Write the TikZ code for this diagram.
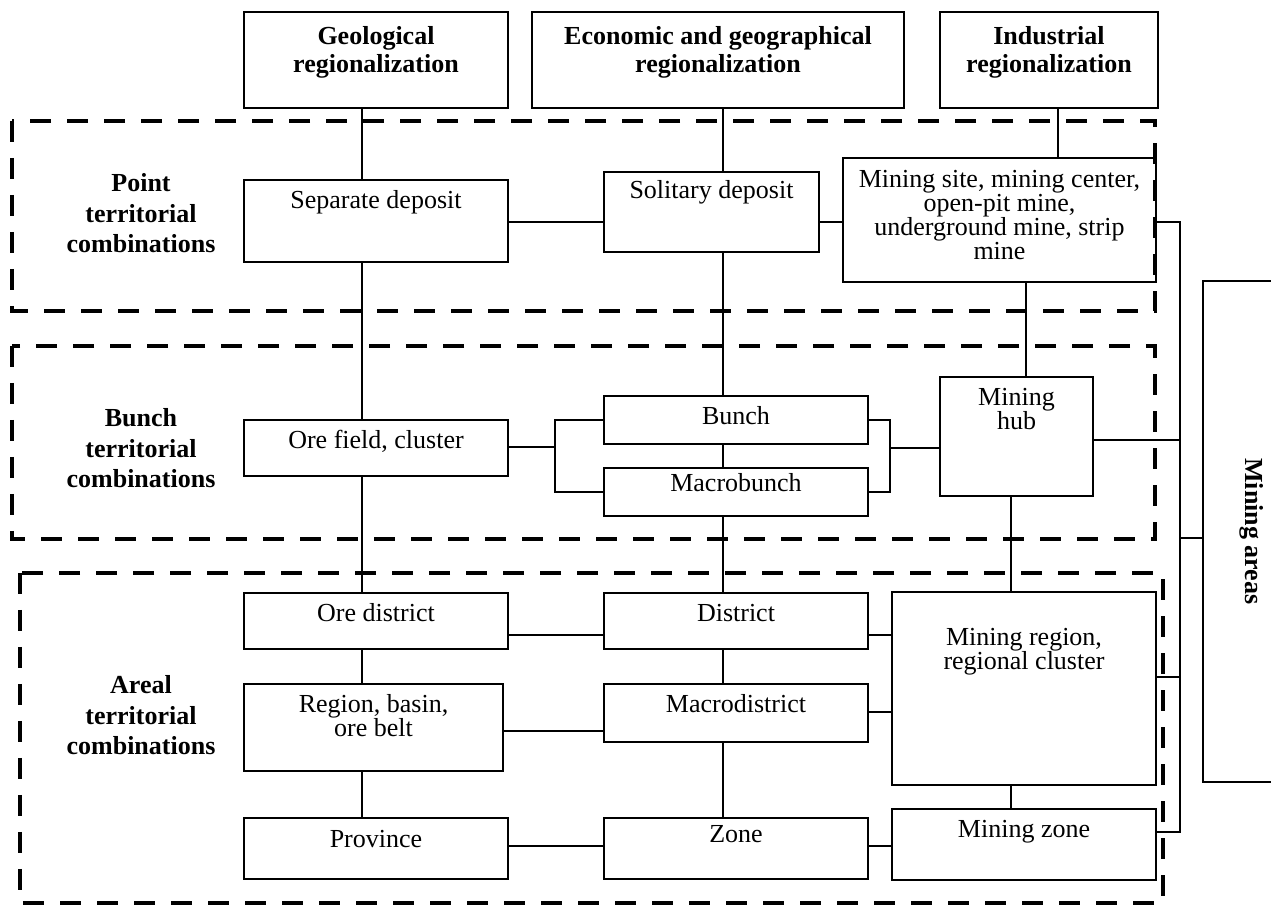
\documentclass[tikz,border=0pt]{standalone}
\usepackage{fontspec}
\setmainfont{Liberation Serif}
\usetikzlibrary{calc}
\tikzset{
  box/.style={draw, line width=1pt, inner sep=0pt, anchor=north west},
  txt/.style={font=\fontsize{13}{12}\selectfont, align=center, anchor=base, inner sep=0pt},
  head/.style={txt, font=\fontsize{13}{14}\selectfont\bfseries},
  grp/.style={txt, font=\fontsize{13}{15.25}\selectfont\bfseries},
  conn/.style={line width=0.8pt},
  grpframe/.style={line width=2pt, dash pattern=on 10.5pt off 8pt},
}
\begin{document}
\begin{tikzpicture}[x=0.5pt,y=-0.5pt]
  \useasboundingbox (0,0) rectangle (1271,908);
  \clip (0,0) rectangle (1271,908);
  % the three groups of combinations
  % (base of a text of several lines = its last line)
  \draw[grpframe] (12,121) rectangle (1155,311);
  \draw[grpframe] (12,346) rectangle (1155,539);
  \draw[grpframe] (20,573) rectangle (1163,903);
  \node[grp] (lpoint) at (141,253) {Point\\territorial\\combinations};
  \node[grp] (lbunch) at (141,488) {Bunch\\territorial\\combinations};
  \node[grp] (lareal) at (141,755) {Areal\\territorial\\combinations};
  %% kinds of regionalization
  \node[box, minimum width=132pt, minimum height=48pt] (geo) at (243,11) {};
  \node[head] (geo-t) at ([yshift=-31pt]geo.north) {Geological\\regionalization};
  \node[box, minimum width=186pt, minimum height=48pt] (econ) at (531,11) {};
  \node[head] (econ-t) at ([yshift=-31pt]econ.north) {Economic and geographical\\regionalization};
  \node[box, minimum width=109pt, minimum height=48pt] (ind) at (939,11) {};
  \node[head] (ind-t) at ([yshift=-31pt]ind.north) {Industrial\\regionalization};
  %% point row
  \node[box, minimum width=132pt, minimum height=41pt] (sep) at (243,179) {};
  \node[txt] (sep-t) at ([yshift=-15pt]sep.north) {Separate deposit};
  \node[box, minimum width=107.5pt, minimum height=40pt] (sol) at (603,171) {};
  \node[txt] (sol-t) at ([yshift=-14pt]sol.north) {Solitary deposit};
  \node[box, minimum width=156.5pt, minimum height=62pt] (site) at (842,157) {};
  \node[txt] (site-t) at ([yshift=-51.5pt]site.north) {Mining site, mining center,\\open-pit mine,\\underground mine, strip\\mine};
  %% bunch row
  \node[box, minimum width=132pt, minimum height=28pt] (ore) at (243,419) {};
  \node[txt] (ore-t) at ([yshift=-15pt]ore.north) {Ore field, cluster};
  \node[box, minimum width=132pt, minimum height=24pt] (bunch) at (603,395) {};
  \node[txt] (bunch-t) at ([yshift=-15pt]bunch.north) {Bunch};
  \node[box, minimum width=132pt, minimum height=24pt] (mbunch) at (603,467) {};
  \node[txt] (mbunch-t) at ([yshift=-12.5pt]mbunch.north) {Macrobunch};
  \node[box, minimum width=76.5pt, minimum height=59.5pt] (hub) at (939,376) {};
  \node[txt] (hub-t) at ([yshift=-27pt]hub.north) {Mining\\hub};
  %% areal rows
  \node[box, minimum width=132pt, minimum height=28pt] (odist) at (243,592) {};
  \node[txt] (odist-t) at ([yshift=-15pt]odist.north) {Ore district};
  \node[box, minimum width=132pt, minimum height=28pt] (dist) at (603,592) {};
  \node[txt] (dist-t) at ([yshift=-15pt]dist.north) {District};
  \node[box, minimum width=129.5pt, minimum height=43.5pt] (belt) at (243,683) {};
  \node[txt] (belt-t) at ([yshift=-27pt]belt.north) {Region, basin,\\ore belt};
  \node[box, minimum width=132pt, minimum height=29pt] (mdist) at (603,683) {};
  \node[txt] (mdist-t) at ([yshift=-15pt]mdist.north) {Macrodistrict};
  \node[box, minimum width=132pt, minimum height=96.5pt] (mreg) at (891,591) {};
  \node[txt] (mreg-t) at ([yshift=-39.5pt]mreg.north) {Mining region,\\regional cluster};
  \node[box, minimum width=132pt, minimum height=30.5pt] (prov) at (243,817) {};
  \node[txt] (prov-t) at ([yshift=-15.5pt]prov.north) {Province};
  \node[box, minimum width=132pt, minimum height=30.5pt] (zone) at (603,817) {};
  \node[txt] (zone-t) at ([yshift=-13pt]zone.north) {Zone};
  \node[box, minimum width=132pt, minimum height=35.5pt] (mzone) at (891,808) {};
  \node[txt] (mzone-t) at ([yshift=-15pt]mzone.north) {Mining zone};
  \node[draw, conn, rotate=-90, inner sep=0pt, minimum width=250.5pt, minimum height=49pt,
        font=\fontsize{13}{14}\selectfont\bfseries] (areas) at (1252,531.5) {Mining areas};
  %% columns and rows of the connectors
  \coordinate (c1) at (362,0);
  \coordinate (c2) at (723,0);
  \coordinate (c3) at (1058,0);
  \coordinate (c4) at (1026,0);
  \coordinate (c5) at (1011,0);
  \coordinate (bl) at (555,0);
  \coordinate (br) at (890,448);
  \coordinate (bus) at (1180,0);
  \coordinate (r1) at (0,222);
  \coordinate (rore) at (0,447);
  \coordinate (rhub) at (0,440);
  \coordinate (rareas) at (0,538);
  \coordinate (r2) at (0,635);
  \coordinate (rreg) at (0,677);
  \coordinate (r3b) at (0,712);
  \coordinate (r3) at (0,731);
  \coordinate (rzone) at (0,832);
  \coordinate (r4) at (0,846);
  % verticals
  \foreach \a/\b in {geo/sep,sep/ore,ore/odist,odist/belt,belt/prov}
    \draw[conn] (\a.south -| c1) -- (\b.north -| c1);
  \foreach \a/\b in {econ/sol,sol/bunch,bunch/mbunch,mbunch/dist,dist/mdist,mdist/zone}
    \draw[conn] (\a.south -| c2) -- (\b.north -| c2);
  \draw[conn] (ind.south -| c3) -- (site.north -| c3);
  \draw[conn] (site.south -| c4) -- (hub.north -| c4);
  \draw[conn] (hub.south -| c5) -- (mreg.north -| c5);
  \draw[conn] (mreg.south -| c5) -- (mzone.north -| c5);
  % horizontals
  \draw[conn] (sep.east |- r1) -- (sol.west |- r1);
  \draw[conn] (sol.east |- r1) -- (site.west |- r1);
  \draw[conn] (ore.east |- rore) -- (bl |- rore);
  \draw[conn] (bunch.west) -- (bunch.west -| bl) -- (mbunch.west -| bl) -- (mbunch.west);
  \draw[conn] (bunch.east) -- (bunch.east -| br) -- (mbunch.east -| br) -- (mbunch.east);
  \draw[conn] (br) -- (br -| hub.west);
  \draw[conn] (odist.east |- r2) -- (dist.west |- r2);
  \draw[conn] (dist.east |- r2) -- (mreg.west |- r2);
  \draw[conn] (belt.east |- r3) -- (mdist.west |- r3);
  \draw[conn] (mdist.east |- r3b) -- (mreg.west |- r3b);
  \draw[conn] (prov.east |- r4) -- (zone.west |- r4);
  \draw[conn] (zone.east |- r4) -- (mzone.west |- r4);
  % the bus to the mining areas
  \draw[conn] (site.east |- r1) -- (bus |- r1) -- (bus |- rzone) -- (mzone.east |- rzone);
  \draw[conn] (hub.east |- rhub) -- (bus |- rhub);
  \draw[conn] (mreg.east |- rreg) -- (bus |- rreg);
  \draw[conn] (bus |- rareas) -- (areas.south |- rareas);
\end{tikzpicture}
\end{document}
